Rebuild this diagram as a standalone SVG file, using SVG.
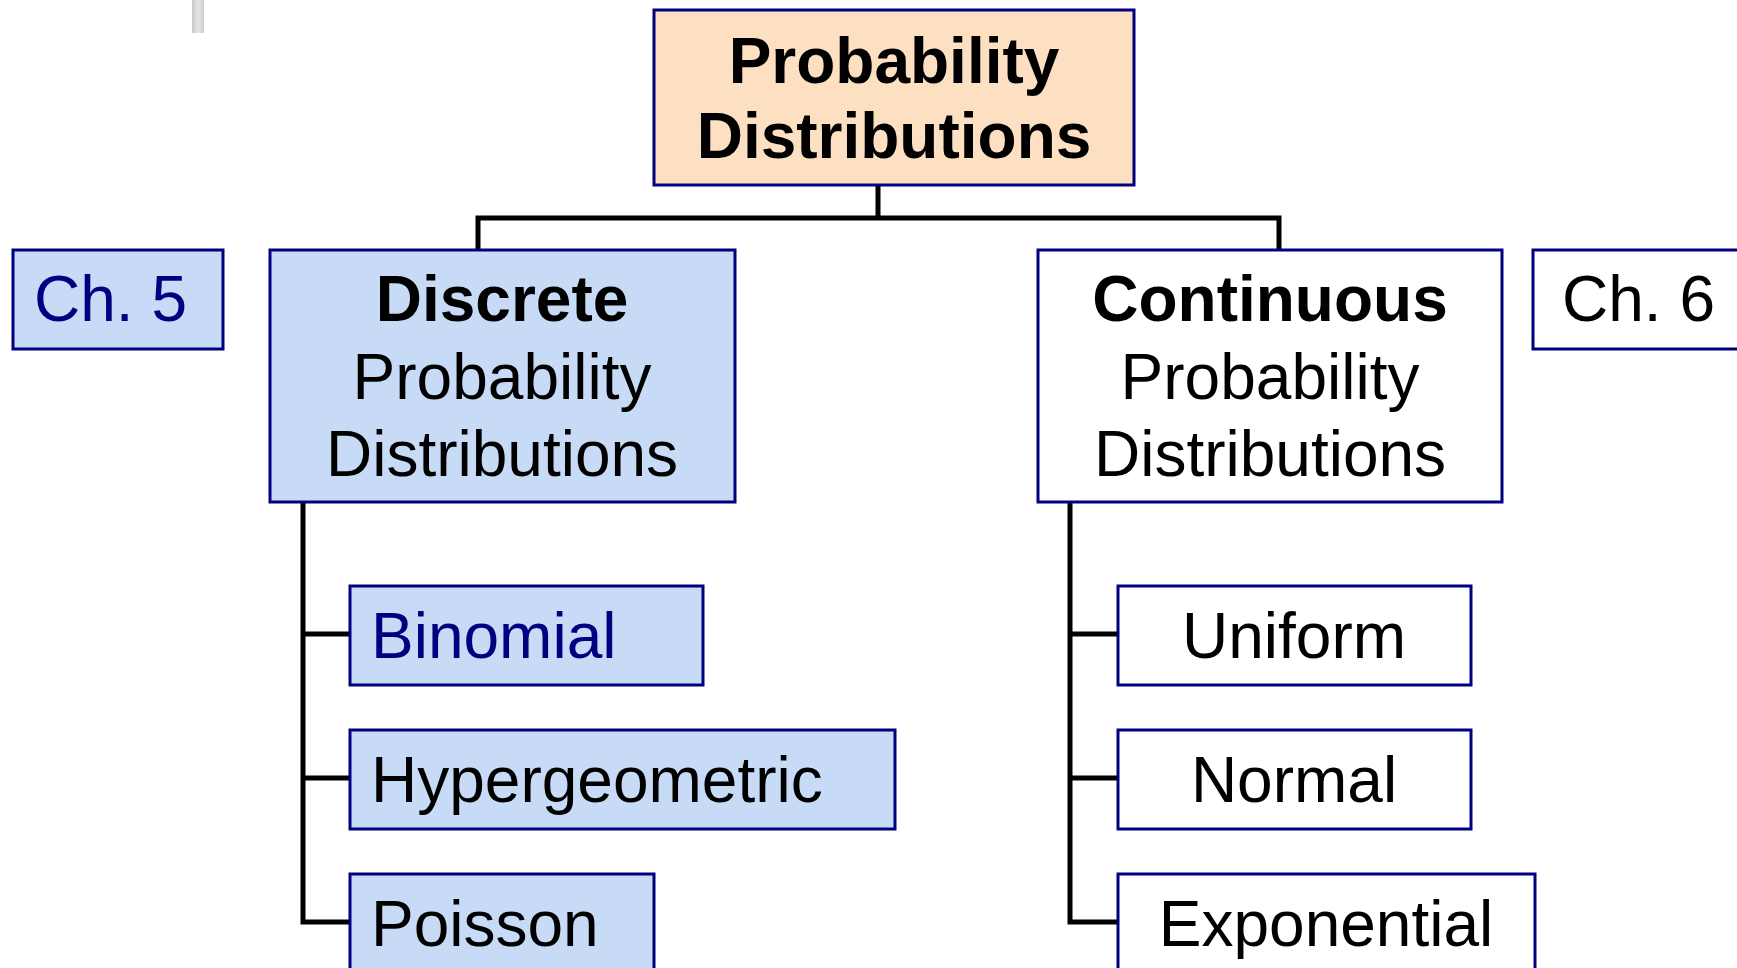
<svg xmlns="http://www.w3.org/2000/svg" width="1737" height="968" viewBox="0 0 1737 968">
<style>
.box{stroke:#000080;stroke-width:3}
.blue{fill:#C8DBF6}
.white{fill:#FFFFFF}
.peach{fill:#FDE0C2}
.t{font-family:"Liberation Sans",Arial,sans-serif;font-size:64px;fill:#000}
.b{font-weight:bold}
.navy{fill:#000080}
.c{text-anchor:middle}
.conn{stroke:#000;stroke-width:5;fill:none;stroke-linecap:square}
</style>
<defs>
<linearGradient id="gbar" x1="0" y1="0" x2="1" y2="0">
<stop offset="0" stop-color="#c8c8c8"/>
<stop offset="0.5" stop-color="#e4e4e4"/>
<stop offset="1" stop-color="#cfcfcf"/>
</linearGradient>
</defs>
<rect width="1737" height="968" fill="#fff"/>
<rect x="192" y="0" width="12" height="33" fill="url(#gbar)"/>
<g id="connectors">
<path class="conn" d="M878 185V218M478 218H1279M478 218V250M1279 218V250"/>
<path class="conn" d="M303 502V922M303 634H349M303 778H349M303 922H349"/>
<path class="conn" d="M1070 502V922M1070 634H1117M1070 778H1117M1070 922H1117"/>
</g>
<g id="root">
<rect class="box peach" x="654" y="10" width="480" height="175"/>
<text class="t b c" x="894" y="83">Probability</text>
<text class="t b c" x="894" y="158">Distributions</text>
</g>
<g id="ch5">
<rect class="box blue" x="13" y="250" width="210" height="99"/>
<text class="t navy" x="34" y="321">Ch. 5</text>
</g>
<g id="discrete">
<rect class="box blue" x="270" y="250" width="465" height="252"/>
<text class="t b c" x="502" y="321">Discrete</text>
<text class="t c" x="502" y="399">Probability</text>
<text class="t c" x="502" y="476">Distributions</text>
</g>
<g id="continuous">
<rect class="box white" x="1038" y="250" width="464" height="252"/>
<text class="t b c" x="1270" y="321">Continuous</text>
<text class="t c" x="1270" y="399">Probability</text>
<text class="t c" x="1270" y="476">Distributions</text>
</g>
<g id="ch6">
<rect class="box white" x="1533" y="250" width="215" height="99"/>
<text class="t" x="1562" y="321">Ch. 6</text>
</g>
<g id="binomial">
<rect class="box blue" x="350" y="586" width="353" height="99"/>
<text class="t navy" x="371" y="658">Binomial</text>
</g>
<g id="hypergeometric">
<rect class="box blue" x="350" y="730" width="545" height="99"/>
<text class="t" x="371" y="802">Hypergeometric</text>
</g>
<g id="poisson">
<rect class="box blue" x="350" y="874" width="304" height="104"/>
<text class="t" x="371" y="946">Poisson</text>
</g>
<g id="uniform">
<rect class="box white" x="1118" y="586" width="353" height="99"/>
<text class="t c" x="1294" y="658">Uniform</text>
</g>
<g id="normal">
<rect class="box white" x="1118" y="730" width="353" height="99"/>
<text class="t c" x="1294" y="802">Normal</text>
</g>
<g id="exponential">
<rect class="box white" x="1118" y="874" width="417" height="104"/>
<text class="t c" x="1326" y="946">Exponential</text>
</g>
</svg>
